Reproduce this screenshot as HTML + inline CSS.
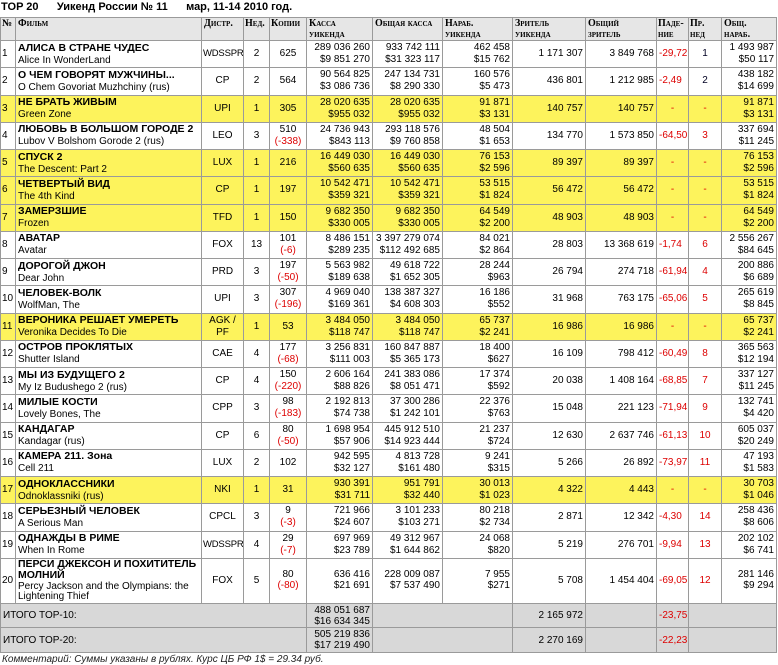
<!DOCTYPE html>
<html><head><meta charset="utf-8"><style>
body{margin:0;background:#fff;width:778px;height:665px;overflow:hidden;font-family:"Liberation Sans","DejaVu Sans",sans-serif;color:#000}
.t{position:absolute;left:1px;top:1px;font-weight:bold;font-size:11px;white-space:pre}
table{position:absolute;left:0;top:17px;border-collapse:collapse;table-layout:fixed;width:777px;font-size:10px;line-height:12px}
td{border:1px solid #9a9a9a;padding:0 2px;overflow:hidden;white-space:nowrap;vertical-align:middle}
th{border:1px solid #9a9a9a;padding:0 2px;background:#e6e6e6;font-family:"Liberation Serif","DejaVu Serif",serif;font-variant:small-caps;font-size:10px;line-height:11px;text-align:left;vertical-align:top;font-weight:bold;white-space:nowrap}
tr{height:27.25px}
tr.y td{background:#fdf35c}
tr.g{height:24.5px}
tr.g td{background:#d8d8d8;line-height:11px}
tr.p td{line-height:10.5px}
.b{font-weight:bold;font-size:10.5px}
.c{text-align:center}.r{text-align:right}
td.c{padding:0 1px}
.s{font-size:9.5px;letter-spacing:-0.2px}
.red{color:#d00}.blu{color:#002}
.n{padding:0 1px}
.cm{position:absolute;left:2px;top:654px;font-size:10px;line-height:11px;font-style:italic;color:#222}
</style></head><body>
<div class="t">TOP 20      Уикенд России № 11      мар, 11-14 2010 год.</div>
<table>
<colgroup><col style="width:15px"><col style="width:186px"><col style="width:42px"><col style="width:26px"><col style="width:37px"><col style="width:66px"><col style="width:70px"><col style="width:70px"><col style="width:73px"><col style="width:71px"><col style="width:32px"><col style="width:33px"><col style="width:55px"></colgroup>
<tr style="height:23px"><th class="n">№</th><th>Фильм</th><th>Дистр.</th><th class="n">Нед.</th><th class="n">Копии</th><th>Касса<br>уикенда</th><th>Общая касса</th><th>Нараб.<br>уикенда</th><th>Зритель<br>уикенда</th><th>Общий<br>зритель</th><th class="n">Паде-<br>ние</th><th class="n">Пр.<br>нед</th><th>Общ.<br>нараб.</th></tr>
<tr><td class="n">1</td><td><span class="b">АЛИСА В СТРАНЕ ЧУДЕС</span><br>Alice In WonderLand</td><td class="c s">WDSSPR</td><td class="c">2</td><td class="c">625</td><td class="r">289 036 260<br>$9 851 270</td><td class="r">933 742 111<br>$31 323 117</td><td class="r">462 458<br>$15 762</td><td class="r">1 171 307</td><td class="r">3 849 768</td><td class="red">-29,72</td><td class="c blu">1</td><td class="r">1 493 987<br>$50 117</td></tr>
<tr><td class="n">2</td><td><span class="b">О ЧЕМ ГОВОРЯТ МУЖЧИНЫ...</span><br>O Chem Govoriat Muzhchiny (rus)</td><td class="c">CP</td><td class="c">2</td><td class="c">564</td><td class="r">90 564 825<br>$3 086 736</td><td class="r">247 134 731<br>$8 290 330</td><td class="r">160 576<br>$5 473</td><td class="r">436 801</td><td class="r">1 212 985</td><td class="red">-2,49</td><td class="c blu">2</td><td class="r">438 182<br>$14 699</td></tr>
<tr class="y"><td class="n">3</td><td><span class="b">НЕ БРАТЬ ЖИВЫМ</span><br>Green Zone</td><td class="c">UPI</td><td class="c">1</td><td class="c">305</td><td class="r">28 020 635<br>$955 032</td><td class="r">28 020 635<br>$955 032</td><td class="r">91 871<br>$3 131</td><td class="r">140 757</td><td class="r">140 757</td><td class="c red">-</td><td class="c red">-</td><td class="r">91 871<br>$3 131</td></tr>
<tr><td class="n">4</td><td><span class="b">ЛЮБОВЬ В БОЛЬШОМ ГОРОДЕ 2</span><br>Lubov V Bolshom Gorode 2 (rus)</td><td class="c">LEO</td><td class="c">3</td><td class="c">510<br><span class="red">(-338)</span></td><td class="r">24 736 943<br>$843 113</td><td class="r">293 118 576<br>$9 760 858</td><td class="r">48 504<br>$1 653</td><td class="r">134 770</td><td class="r">1 573 850</td><td class="red">-64,50</td><td class="c red">3</td><td class="r">337 694<br>$11 245</td></tr>
<tr class="y"><td class="n">5</td><td><span class="b">СПУСК 2</span><br>The Descent: Part 2</td><td class="c">LUX</td><td class="c">1</td><td class="c">216</td><td class="r">16 449 030<br>$560 635</td><td class="r">16 449 030<br>$560 635</td><td class="r">76 153<br>$2 596</td><td class="r">89 397</td><td class="r">89 397</td><td class="c red">-</td><td class="c red">-</td><td class="r">76 153<br>$2 596</td></tr>
<tr class="y"><td class="n">6</td><td><span class="b">ЧЕТВЕРТЫЙ ВИД</span><br>The 4th Kind</td><td class="c">CP</td><td class="c">1</td><td class="c">197</td><td class="r">10 542 471<br>$359 321</td><td class="r">10 542 471<br>$359 321</td><td class="r">53 515<br>$1 824</td><td class="r">56 472</td><td class="r">56 472</td><td class="c red">-</td><td class="c red">-</td><td class="r">53 515<br>$1 824</td></tr>
<tr class="y"><td class="n">7</td><td><span class="b">ЗАМЕРЗШИЕ</span><br>Frozen</td><td class="c">TFD</td><td class="c">1</td><td class="c">150</td><td class="r">9 682 350<br>$330 005</td><td class="r">9 682 350<br>$330 005</td><td class="r">64 549<br>$2 200</td><td class="r">48 903</td><td class="r">48 903</td><td class="c red">-</td><td class="c red">-</td><td class="r">64 549<br>$2 200</td></tr>
<tr><td class="n">8</td><td><span class="b">АВАТАР</span><br>Avatar</td><td class="c">FOX</td><td class="c">13</td><td class="c">101<br><span class="red">(-6)</span></td><td class="r">8 486 151<br>$289 235</td><td class="r">3 397 279 074<br>$112 492 685</td><td class="r">84 021<br>$2 864</td><td class="r">28 803</td><td class="r">13 368 619</td><td class="red">-1,74</td><td class="c red">6</td><td class="r">2 556 267<br>$84 645</td></tr>
<tr><td class="n">9</td><td><span class="b">ДОРОГОЙ ДЖОН</span><br>Dear John</td><td class="c">PRD</td><td class="c">3</td><td class="c">197<br><span class="red">(-50)</span></td><td class="r">5 563 982<br>$189 638</td><td class="r">49 618 722<br>$1 652 305</td><td class="r">28 244<br>$963</td><td class="r">26 794</td><td class="r">274 718</td><td class="red">-61,94</td><td class="c red">4</td><td class="r">200 886<br>$6 689</td></tr>
<tr><td class="n">10</td><td><span class="b">ЧЕЛОВЕК-ВОЛК</span><br>WolfMan, The</td><td class="c">UPI</td><td class="c">3</td><td class="c">307<br><span class="red">(-196)</span></td><td class="r">4 969 040<br>$169 361</td><td class="r">138 387 327<br>$4 608 303</td><td class="r">16 186<br>$552</td><td class="r">31 968</td><td class="r">763 175</td><td class="red">-65,06</td><td class="c red">5</td><td class="r">265 619<br>$8 845</td></tr>
<tr class="y"><td class="n">11</td><td><span class="b">ВЕРОНИКА РЕШАЕТ УМЕРЕТЬ</span><br>Veronika Decides To Die</td><td class="c">AGK /<br>PF</td><td class="c">1</td><td class="c">53</td><td class="r">3 484 050<br>$118 747</td><td class="r">3 484 050<br>$118 747</td><td class="r">65 737<br>$2 241</td><td class="r">16 986</td><td class="r">16 986</td><td class="c red">-</td><td class="c red">-</td><td class="r">65 737<br>$2 241</td></tr>
<tr><td class="n">12</td><td><span class="b">ОСТРОВ ПРОКЛЯТЫХ</span><br>Shutter Island</td><td class="c">CAE</td><td class="c">4</td><td class="c">177<br><span class="red">(-68)</span></td><td class="r">3 256 831<br>$111 003</td><td class="r">160 847 887<br>$5 365 173</td><td class="r">18 400<br>$627</td><td class="r">16 109</td><td class="r">798 412</td><td class="red">-60,49</td><td class="c red">8</td><td class="r">365 563<br>$12 194</td></tr>
<tr><td class="n">13</td><td><span class="b">МЫ ИЗ БУДУЩЕГО 2</span><br>My Iz Budushego 2 (rus)</td><td class="c">CP</td><td class="c">4</td><td class="c">150<br><span class="red">(-220)</span></td><td class="r">2 606 164<br>$88 826</td><td class="r">241 383 086<br>$8 051 471</td><td class="r">17 374<br>$592</td><td class="r">20 038</td><td class="r">1 408 164</td><td class="red">-68,85</td><td class="c red">7</td><td class="r">337 127<br>$11 245</td></tr>
<tr><td class="n">14</td><td><span class="b">МИЛЫЕ КОСТИ</span><br>Lovely Bones, The</td><td class="c">CPP</td><td class="c">3</td><td class="c">98<br><span class="red">(-183)</span></td><td class="r">2 192 813<br>$74 738</td><td class="r">37 300 286<br>$1 242 101</td><td class="r">22 376<br>$763</td><td class="r">15 048</td><td class="r">221 123</td><td class="red">-71,94</td><td class="c red">9</td><td class="r">132 741<br>$4 420</td></tr>
<tr><td class="n">15</td><td><span class="b">КАНДАГАР</span><br>Kandagar (rus)</td><td class="c">CP</td><td class="c">6</td><td class="c">80<br><span class="red">(-50)</span></td><td class="r">1 698 954<br>$57 906</td><td class="r">445 912 510<br>$14 923 444</td><td class="r">21 237<br>$724</td><td class="r">12 630</td><td class="r">2 637 746</td><td class="red">-61,13</td><td class="c red">10</td><td class="r">605 037<br>$20 249</td></tr>
<tr><td class="n">16</td><td><span class="b">КАМЕРА 211. Зона</span><br>Cell 211</td><td class="c">LUX</td><td class="c">2</td><td class="c">102</td><td class="r">942 595<br>$32 127</td><td class="r">4 813 728<br>$161 480</td><td class="r">9 241<br>$315</td><td class="r">5 266</td><td class="r">26 892</td><td class="red">-73,97</td><td class="c red">11</td><td class="r">47 193<br>$1 583</td></tr>
<tr class="y"><td class="n">17</td><td><span class="b">ОДНОКЛАССНИКИ</span><br>Odnoklassniki (rus)</td><td class="c">NKI</td><td class="c">1</td><td class="c">31</td><td class="r">930 391<br>$31 711</td><td class="r">951 791<br>$32 440</td><td class="r">30 013<br>$1 023</td><td class="r">4 322</td><td class="r">4 443</td><td class="c red">-</td><td class="c red">-</td><td class="r">30 703<br>$1 046</td></tr>
<tr><td class="n">18</td><td><span class="b">СЕРЬЕЗНЫЙ ЧЕЛОВЕК</span><br>A Serious Man</td><td class="c">CPCL</td><td class="c">3</td><td class="c">9<br><span class="red">(-3)</span></td><td class="r">721 966<br>$24 607</td><td class="r">3 101 233<br>$103 271</td><td class="r">80 218<br>$2 734</td><td class="r">2 871</td><td class="r">12 342</td><td class="red">-4,30</td><td class="c red">14</td><td class="r">258 436<br>$8 606</td></tr>
<tr><td class="n">19</td><td><span class="b">ОДНАЖДЫ В РИМЕ</span><br>When In Rome</td><td class="c s">WDSSPR</td><td class="c">4</td><td class="c">29<br><span class="red">(-7)</span></td><td class="r">697 969<br>$23 789</td><td class="r">49 312 967<br>$1 644 862</td><td class="r">24 068<br>$820</td><td class="r">5 219</td><td class="r">276 701</td><td class="red">-9,94</td><td class="c red">13</td><td class="r">202 102<br>$6 741</td></tr>
<tr class="p" style="height:44px"><td class="n">20</td><td><span class="b">ПЕРСИ ДЖЕКСОН И ПОХИТИТЕЛЬ<br>МОЛНИЙ</span><br>Percy Jackson and the Olympians: the<br>Lightening Thief</td><td class="c">FOX</td><td class="c">5</td><td class="c">80<br><span class="red">(-80)</span></td><td class="r">636 416<br>$21 691</td><td class="r">228 009 087<br>$7 537 490</td><td class="r">7 955<br>$271</td><td class="r">5 708</td><td class="r">1 454 404</td><td class="red">-69,05</td><td class="c red">12</td><td class="r">281 146<br>$9 294</td></tr>
<tr class="g"><td colspan="5">ИТОГО TOP-10:</td><td class="r">488 051 687<br>$16 634 345</td><td colspan="2"></td><td class="r">2 165 972</td><td></td><td class="red">-23,75</td><td colspan="2"></td></tr>
<tr class="g"><td colspan="5">ИТОГО TOP-20:</td><td class="r">505 219 836<br>$17 219 490</td><td colspan="2"></td><td class="r">2 270 169</td><td></td><td class="red">-22,23</td><td colspan="2"></td></tr>
</table>
<div class="cm">Комментарий: Суммы указаны в рублях. Курс ЦБ РФ 1$ = 29.34 руб.</div>
</body></html>
